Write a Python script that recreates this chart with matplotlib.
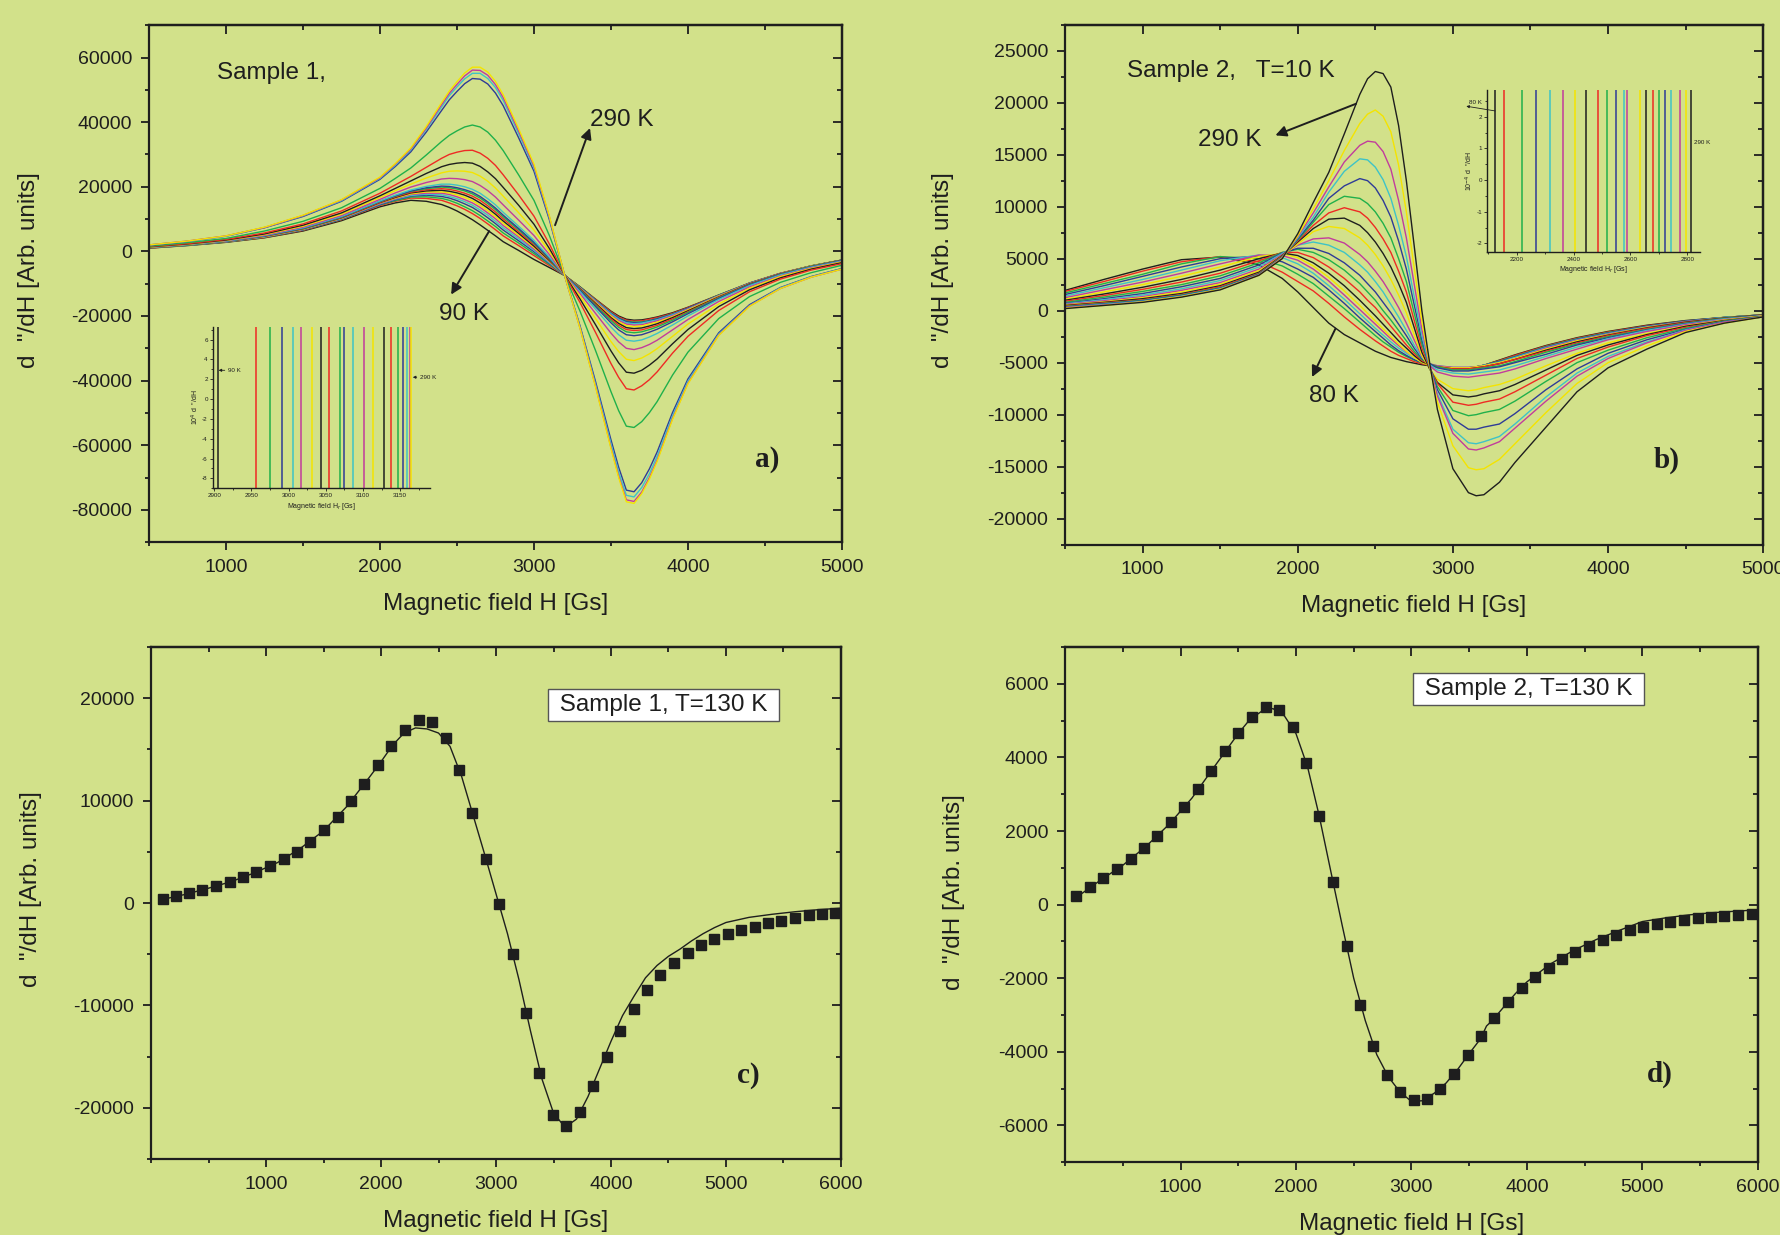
import matplotlib
matplotlib.use("Agg")
import matplotlib.pyplot as plt
import numpy as np
from matplotlib.ticker import MultipleLocator

plt.rcParams['font.family'] = ['Liberation Sans', 'DejaVu Sans']
plt.rcParams['axes.unicode_minus'] = False

BG = '#d2e18a'
INK = '#1e1e1e'
# Origin-like colour cycle: black, red, green, blue, cyan, magenta, yellow
cycle = ['#1e1e1e', '#ee2a24', '#20b04b', '#2e3b97', '#3ec3c7', '#c23c9c', '#f4e400']

# ---------------- panel a : sample 1, 90 K ... 290 K (values in units of 1000) ----
field_a = [500, 750, 1000, 1250, 1500, 1750, 2000, 2100, 2200, 2300, 2400, 2450, 2500,
           2550, 2600, 2650, 2700, 2750, 2800, 2900, 3000, 3100, 3200, 3300, 3400, 3500,
           3550, 3600, 3650, 3700, 3750, 3800, 3900, 4000, 4200, 4400, 4600, 4800, 5000]
temps_a = [90, 100, 110, 120, 130, 140, 150, 160, 170, 180, 190, 200, 210, 220, 230,
           240, 250, 260, 270, 280, 290]
a090 = [1.0, 1.8, 2.8, 4.2, 6.3, 9.5, 13.8, 15.0, 15.8, 15.5, 14.5, 13.6, 12.5, 11.2, 9.8, 8.2, 6.5, 4.8, 3.0, 0.3, -2.5, -5.0, -7.5, -11.0, -14.8, -18.5, -20.0, -21.0, -21.3, -21.2, -20.8, -20.3, -19.0, -17.3, -13.5, -9.8, -6.8, -4.5, -2.7]
a100 = [1.0, 1.9, 2.9, 4.3, 6.5, 9.8, 14.2, 15.5, 16.5, 16.4, 15.8, 15.0, 14.1, 13.0, 11.7, 10.2, 8.5, 6.7, 4.8, 1.8, -1.3, -4.4, -7.5, -11.1, -14.9, -18.7, -20.3, -21.3, -21.6, -21.5, -21.0, -20.5, -19.2, -17.4, -13.6, -9.8, -6.8, -4.5, -2.7]
a110 = [1.1, 1.9, 2.9, 4.4, 6.6, 9.9, 14.4, 15.7, 16.8, 16.9, 16.4, 15.8, 14.9, 13.8, 12.6, 11.1, 9.4, 7.7, 5.7, 2.6, -0.7, -4.0, -7.5, -11.1, -15.1, -19.0, -20.6, -21.6, -21.9, -21.8, -21.4, -20.8, -19.4, -17.6, -13.6, -9.9, -6.9, -4.5, -2.7]
a120 = [1.1, 1.9, 3.0, 4.5, 6.7, 10.0, 14.5, 16.0, 17.1, 17.4, 17.0, 16.5, 15.7, 14.7, 13.6, 12.1, 10.4, 8.6, 6.6, 3.3, -0.1, -3.7, -7.5, -11.2, -15.2, -19.1, -20.7, -21.8, -22.1, -22.0, -21.5, -20.9, -19.5, -17.6, -13.7, -9.9, -6.9, -4.6, -2.7]
a130 = [1.1, 1.9, 3.0, 4.5, 6.8, 10.1, 14.7, 16.2, 17.3, 17.7, 17.5, 17.0, 16.3, 15.4, 14.3, 12.8, 11.2, 9.3, 7.3, 3.9, 0.3, -3.5, -7.5, -11.3, -15.3, -19.3, -21.0, -22.1, -22.4, -22.2, -21.7, -21.2, -19.6, -17.8, -13.7, -9.9, -6.9, -4.6, -2.8]
a140 = [1.1, 2.0, 3.0, 4.6, 6.8, 10.2, 14.8, 16.3, 17.6, 18.0, 18.0, 17.6, 16.9, 16.0, 15.0, 13.6, 11.9, 10.1, 8.0, 4.5, 0.7, -3.2, -7.4, -11.4, -15.5, -19.7, -21.4, -22.5, -22.8, -22.7, -22.1, -21.5, -19.9, -17.9, -13.8, -10.0, -6.9, -4.6, -2.8]
a150 = [1.1, 2.0, 3.1, 4.6, 6.9, 10.3, 15.0, 16.5, 17.8, 18.4, 18.4, 18.1, 17.5, 16.7, 15.7, 14.3, 12.6, 10.8, 8.7, 5.0, 1.2, -3.0, -7.4, -11.5, -15.8, -20.0, -21.8, -23.0, -23.3, -23.1, -22.5, -21.9, -20.2, -18.1, -13.9, -10.1, -7.0, -4.6, -2.8]
a160 = [1.1, 2.0, 3.1, 4.7, 7.0, 10.4, 15.1, 16.7, 18.1, 18.7, 18.9, 18.6, 18.1, 17.4, 16.4, 15.0, 13.4, 11.5, 9.4, 5.6, 1.6, -2.8, -7.4, -11.6, -16.1, -20.5, -22.3, -23.6, -23.9, -23.7, -23.1, -22.4, -20.5, -18.4, -14.1, -10.1, -7.0, -4.7, -2.8]
a170 = [1.2, 2.0, 3.1, 4.7, 7.1, 10.5, 15.2, 16.9, 18.3, 19.1, 19.4, 19.2, 18.7, 18.0, 17.1, 15.8, 14.1, 12.2, 10.1, 6.1, 2.1, -2.5, -7.4, -11.7, -16.4, -20.9, -22.9, -24.2, -24.5, -24.3, -23.6, -22.9, -20.9, -18.7, -14.2, -10.2, -7.1, -4.7, -2.9]
a180 = [1.2, 2.0, 3.1, 4.8, 7.1, 10.6, 15.4, 17.1, 18.6, 19.4, 19.9, 19.7, 19.3, 18.7, 17.8, 16.5, 14.8, 12.9, 10.7, 6.7, 2.5, -2.3, -7.4, -11.9, -16.7, -21.4, -23.5, -24.9, -25.2, -24.9, -24.2, -23.4, -21.3, -18.9, -14.4, -10.3, -7.1, -4.7, -2.9]
a190 = [1.2, 2.1, 3.2, 4.8, 7.2, 10.7, 15.5, 17.2, 18.7, 19.7, 20.2, 20.1, 19.7, 19.1, 18.3, 17.0, 15.3, 13.4, 11.2, 7.1, 2.8, -2.1, -7.4, -12.1, -17.1, -22.1, -24.3, -25.8, -26.1, -25.8, -25.0, -24.1, -21.8, -19.3, -14.6, -10.4, -7.2, -4.8, -2.9]
a200 = [1.2, 2.1, 3.2, 4.9, 7.3, 10.8, 15.6, 17.4, 19.0, 20.1, 20.8, 20.8, 20.5, 20.0, 19.2, 18.0, 16.3, 14.4, 12.1, 7.8, 3.4, -1.8, -7.4, -12.5, -17.9, -23.4, -25.8, -27.5, -27.8, -27.4, -26.5, -25.4, -22.8, -20.0, -14.9, -10.6, -7.3, -4.9, -3.0]
a210 = [1.3, 2.2, 3.3, 5.0, 7.5, 11.1, 16.1, 18.1, 19.9, 21.3, 22.4, 22.6, 22.5, 22.2, 21.6, 20.4, 18.8, 16.8, 14.4, 9.7, 4.9, -1.0, -7.4, -13.1, -19.2, -25.3, -28.0, -30.0, -30.4, -29.8, -28.8, -27.5, -24.3, -21.1, -15.5, -11.0, -7.6, -5.1, -3.2]
a220 = [1.3, 2.2, 3.4, 5.2, 7.8, 11.5, 16.7, 18.8, 20.8, 22.7, 24.3, 24.8, 24.9, 24.8, 24.4, 23.3, 21.7, 19.6, 17.1, 12.0, 6.6, 0.0, -7.4, -13.9, -20.8, -27.9, -31.0, -33.4, -33.8, -33.0, -31.7, -30.1, -26.3, -22.5, -16.3, -11.4, -7.8, -5.3, -3.3]
a230 = [1.4, 2.3, 3.5, 5.4, 8.1, 11.9, 17.2, 19.5, 21.8, 24.1, 26.2, 26.9, 27.3, 27.5, 27.3, 26.3, 24.6, 22.5, 19.8, 14.3, 8.4, 0.9, -7.4, -14.8, -22.7, -30.8, -34.5, -37.4, -37.7, -36.8, -35.2, -33.3, -28.6, -24.2, -17.1, -11.9, -8.2, -5.5, -3.5]
a240 = [1.5, 2.4, 3.7, 5.7, 8.5, 12.5, 18.0, 20.6, 23.2, 26.0, 28.8, 30.0, 30.7, 31.2, 31.3, 30.4, 28.8, 26.6, 23.7, 17.5, 10.9, 2.3, -7.5, -15.9, -25.1, -34.7, -39.0, -42.5, -42.9, -41.6, -39.7, -37.3, -31.5, -26.3, -18.3, -12.5, -8.6, -5.8, -3.8]
a250 = [1.6, 2.7, 4.0, 6.3, 9.3, 13.5, 19.5, 22.6, 25.8, 29.8, 34.0, 35.9, 37.3, 38.5, 39.1, 38.5, 36.9, 34.4, 31.2, 23.7, 15.8, 4.9, -7.5, -18.6, -30.7, -43.4, -49.3, -54.1, -54.5, -52.7, -49.9, -46.5, -38.3, -31.2, -20.8, -14.0, -9.6, -6.6, -4.3]
a260 = [1.9, 3.1, 4.7, 7.3, 10.8, 15.5, 22.3, 26.3, 30.8, 36.9, 43.6, 46.9, 49.5, 51.9, 53.5, 53.3, 51.8, 49.0, 45.1, 35.2, 24.8, 9.8, -7.6, -23.2, -40.3, -58.3, -66.8, -73.9, -74.4, -71.6, -67.3, -62.1, -49.9, -39.5, -25.2, -16.5, -11.2, -7.8, -5.3]
a270 = [2.0, 3.1, 4.7, 7.4, 11.0, 15.7, 22.6, 26.7, 31.4, 37.7, 44.7, 48.2, 50.9, 53.4, 55.1, 55.1, 53.5, 50.7, 46.7, 36.5, 25.8, 10.4, -7.6, -23.6, -41.1, -59.5, -68.3, -75.5, -76.0, -73.1, -68.8, -63.4, -50.9, -40.2, -25.6, -16.8, -11.3, -7.9, -5.4]
a280 = [2.0, 3.2, 4.8, 7.4, 11.1, 15.9, 22.8, 27.0, 31.7, 38.1, 45.4, 48.9, 51.7, 54.3, 56.1, 56.0, 54.5, 51.6, 47.6, 37.3, 26.4, 10.7, -7.6, -23.9, -41.7, -60.6, -69.5, -76.9, -77.4, -74.5, -70.0, -64.6, -51.7, -40.8, -25.9, -16.9, -11.5, -8.0, -5.5]
a290 = [2.0, 3.2, 4.8, 7.5, 11.2, 16.0, 23.0, 27.2, 32.0, 38.6, 46.0, 49.6, 52.5, 55.2, 57.0, 57.0, 55.5, 52.6, 48.5, 38.0, 27.0, 11.0, -7.6, -24.0, -42.0, -61.0, -70.0, -77.5, -78.0, -75.0, -70.5, -65.0, -52.0, -41.0, -26.0, -17.0, -11.5, -8.0, -5.5]
curves_a = [a090, a100, a110, a120, a130, a140, a150, a160, a170, a180, a190, a200,
            a210, a220, a230, a240, a250, a260, a270, a280, a290]
# inset a: resonance field of each temperature
inset_a_field = [2905, 2956, 2975, 2991, 3006, 3017, 3032, 3043, 3054, 3069, 3074, 3086,
                 3102, 3114, 3128, 3138, 3147, 3154, 3159, 3163, 3165]

# ---------------- panel b : sample 2, 80 K ... 290 K (values in units of 1000) ----
field_b = [500, 750, 1000, 1250, 1500, 1750, 1900, 2000, 2100, 2200, 2300, 2400, 2450,
           2500, 2550, 2600, 2650, 2700, 2750, 2800, 2850, 2900, 3000, 3100, 3150, 3200,
           3300, 3400, 3600, 3800, 4000, 4250, 4500, 4750, 5000]
b080 = [1.95, 3.0, 4.0, 4.9, 5.15, 4.4, 3.1, 1.8, 0.3, -1.2, -2.3, -3.1, -3.5, -3.9, -4.2, -4.5, -4.7, -4.9, -5.05, -5.2, -5.3, -5.4, -5.5, -5.5, -5.4, -5.25, -4.75, -4.25, -3.35, -2.6, -2.0, -1.4, -0.95, -0.65, -0.4]
b090 = [1.85, 2.8, 3.8, 4.7, 5.2, 4.7, 3.7, 2.8, 1.9, 0.7, -0.6, -1.8, -2.35, -2.9, -3.4, -3.9, -4.3, -4.6, -4.9, -5.1, -5.25, -5.4, -5.5, -5.5, -5.4, -5.25, -4.8, -4.3, -3.4, -2.65, -2.05, -1.45, -1.0, -0.65, -0.4]
b100 = [1.7, 2.6, 3.5, 4.5, 5.2, 5.0, 4.3, 3.5, 2.6, 1.4, 0.2, -1.1, -1.75, -2.4, -3.0, -3.5, -4.0, -4.4, -4.75, -5.0, -5.2, -5.35, -5.5, -5.5, -5.4, -5.25, -4.85, -4.4, -3.45, -2.7, -2.1, -1.5, -1.0, -0.65, -0.4]
b110 = [1.55, 2.4, 3.3, 4.2, 5.0, 5.25, 4.7, 4.0, 3.2, 2.0, 0.7, -0.7, -1.35, -2.0, -2.65, -3.3, -3.85, -4.3, -4.7, -5.0, -5.2, -5.35, -5.5, -5.5, -5.4, -5.25, -4.9, -4.45, -3.5, -2.75, -2.15, -1.5, -1.0, -0.65, -0.4]
b120 = [1.4, 2.2, 3.0, 3.9, 4.8, 5.35, 5.1, 4.5, 3.6, 2.4, 1.1, -0.3, -1.0, -1.7, -2.35, -3.0, -3.6, -4.1, -4.55, -4.9, -5.15, -5.3, -5.45, -5.45, -5.4, -5.25, -4.95, -4.5, -3.55, -2.8, -2.2, -1.55, -1.05, -0.65, -0.4]
b130 = [1.25, 2.0, 2.75, 3.6, 4.5, 5.35, 5.3, 4.85, 4.0, 2.85, 1.5, 0.1, -0.6, -1.3, -2.0, -2.7, -3.35, -3.95, -4.45, -4.85, -5.1, -5.3, -5.45, -5.45, -5.4, -5.3, -5.0, -4.6, -3.6, -2.85, -2.25, -1.6, -1.05, -0.7, -0.4]
b140 = [1.1, 1.8, 2.5, 3.3, 4.2, 5.2, 5.5, 5.1, 4.3, 3.2, 1.9, 0.5, -0.25, -1.0, -1.75, -2.5, -3.2, -3.9, -4.5, -5.0, -5.25, -5.4, -5.5, -5.5, -5.4, -5.3, -5.0, -4.6, -3.7, -2.9, -2.3, -1.6, -1.1, -0.7, -0.4]
b150 = [1.0, 1.6, 2.25, 3.0, 3.9, 5.0, 5.55, 5.3, 4.6, 3.6, 2.4, 1.0, 0.25, -0.5, -1.3, -2.1, -2.9, -3.6, -4.3, -4.9, -5.2, -5.4, -5.6, -5.6, -5.5, -5.4, -5.1, -4.7, -3.8, -3.0, -2.35, -1.65, -1.1, -0.7, -0.4]
b160 = [0.9, 1.45, 2.05, 2.75, 3.6, 4.8, 5.6, 5.6, 5.1, 4.2, 3.1, 1.8, 1.0, 0.3, -0.6, -1.5, -2.4, -3.3, -4.1, -4.8, -5.15, -5.4, -5.6, -5.6, -5.5, -5.4, -5.1, -4.7, -3.9, -3.1, -2.4, -1.7, -1.15, -0.75, -0.45]
b170 = [0.8, 1.3, 1.85, 2.5, 3.35, 4.6, 5.6, 5.9, 5.6, 4.9, 3.9, 2.6, 1.8, 1.0, 0.0, -0.9, -1.9, -2.9, -3.9, -4.7, -5.1, -5.4, -5.7, -5.7, -5.6, -5.5, -5.3, -4.9, -4.0, -3.2, -2.5, -1.8, -1.2, -0.75, -0.45]
b180 = [0.7, 1.15, 1.65, 2.3, 3.1, 4.4, 5.55, 6.0, 6.0, 5.5, 4.6, 3.4, 2.6, 1.8, 0.8, -0.2, -1.3, -2.4, -3.6, -4.6, -5.1, -5.5, -5.8, -5.8, -5.7, -5.6, -5.4, -5.0, -4.2, -3.3, -2.6, -1.85, -1.25, -0.8, -0.45]
b190 = [0.65, 1.05, 1.5, 2.1, 2.9, 4.2, 5.5, 6.3, 6.6, 6.3, 5.6, 4.4, 3.7, 2.8, 1.8, 0.6, -0.6, -1.9, -3.3, -4.5, -5.2, -5.7, -6.0, -6.1, -6.0, -5.9, -5.7, -5.3, -4.4, -3.5, -2.7, -1.9, -1.3, -0.8, -0.5]
b200 = [0.6, 0.95, 1.35, 1.95, 2.7, 4.0, 5.4, 6.3, 6.9, 7.0, 6.5, 5.4, 4.7, 3.8, 2.8, 1.6, 0.3, -1.2, -2.8, -4.4, -5.3, -5.9, -6.3, -6.4, -6.3, -6.2, -6.0, -5.6, -4.6, -3.7, -2.8, -2.0, -1.35, -0.85, -0.5]
b210 = [0.55, 0.85, 1.25, 1.8, 2.55, 3.85, 5.3, 6.4, 7.6, 8.1, 7.9, 7.0, 6.3, 5.4, 4.3, 3.0, 1.5, -0.2, -2.3, -4.3, -5.6, -6.6, -7.5, -7.7, -7.6, -7.4, -7.1, -6.6, -5.3, -4.1, -3.1, -2.2, -1.45, -0.9, -0.5]
b220 = [0.5, 0.8, 1.15, 1.65, 2.4, 3.7, 5.3, 6.6, 7.9, 8.8, 8.9, 8.2, 7.5, 6.6, 5.5, 4.2, 2.6, 0.8, -1.6, -4.0, -5.6, -6.9, -8.1, -8.3, -8.2, -8.0, -7.7, -7.1, -5.7, -4.3, -3.3, -2.3, -1.5, -0.95, -0.55]
b230 = [0.45, 0.75, 1.05, 1.55, 2.3, 3.6, 5.25, 6.7, 8.2, 9.4, 9.9, 9.5, 8.9, 8.0, 6.9, 5.6, 3.8, 1.8, -0.9, -3.6, -5.5, -7.0, -8.8, -9.1, -9.0, -8.8, -8.5, -7.8, -6.2, -4.6, -3.5, -2.4, -1.6, -1.0, -0.55]
b240 = [0.4, 0.7, 1.0, 1.5, 2.2, 3.55, 5.2, 6.8, 8.5, 10.2, 11.0, 10.8, 10.3, 9.5, 8.4, 7.0, 5.0, 2.8, -0.2, -3.2, -5.4, -7.3, -9.6, -10.1, -10.0, -9.8, -9.5, -8.7, -6.8, -5.0, -3.8, -2.6, -1.7, -1.0, -0.55]
b250 = [0.35, 0.65, 0.95, 1.45, 2.15, 3.5, 5.15, 6.9, 8.7, 10.8, 12.0, 12.7, 12.5, 11.8, 10.6, 9.0, 6.7, 4.0, 0.6, -2.8, -5.4, -7.6, -10.4, -11.4, -11.4, -11.2, -10.9, -9.9, -7.6, -5.6, -4.1, -2.8, -1.8, -1.05, -0.6]
b260 = [0.3, 0.6, 0.9, 1.4, 2.1, 3.45, 5.1, 7.0, 9.0, 11.4, 13.4, 14.6, 14.5, 13.8, 12.6, 10.8, 8.2, 5.2, 1.4, -2.4, -5.4, -8.0, -11.4, -12.7, -12.8, -12.6, -12.1, -10.9, -8.3, -6.0, -4.4, -3.0, -1.85, -1.1, -0.6]
b270 = [0.3, 0.55, 0.85, 1.35, 2.05, 3.45, 5.1, 7.1, 9.4, 11.9, 14.3, 15.9, 16.3, 16.2, 15.3, 13.6, 10.6, 7.0, 2.6, -1.8, -5.3, -8.2, -11.8, -13.3, -13.4, -13.2, -12.6, -11.3, -8.7, -6.3, -4.6, -3.1, -1.9, -1.1, -0.6]
b280 = [0.25, 0.5, 0.85, 1.35, 2.05, 3.4, 5.05, 7.2, 9.8, 12.5, 15.4, 18.0, 18.9, 19.3, 18.7, 17.2, 14.0, 9.5, 4.2, -1.0, -5.3, -8.8, -13.0, -15.1, -15.3, -15.2, -14.3, -12.8, -9.8, -7.0, -5.0, -3.4, -2.0, -1.2, -0.6]
b290 = [0.2, 0.5, 0.8, 1.3, 2.0, 3.4, 5.0, 7.4, 10.4, 13.3, 17.0, 20.8, 22.3, 23.0, 22.8, 21.5, 17.8, 12.5, 6.3, 0.0, -5.0, -9.5, -15.2, -17.5, -17.8, -17.7, -16.5, -14.6, -11.2, -7.8, -5.5, -3.7, -2.1, -1.2, -0.6]
curves_b = [b080, b090, b100, b110, b120, b130, b140, b150, b160, b170, b180, b190,
            b200, b210, b220, b230, b240, b250, b260, b270, b280, b290]
inset_b_field = [2124, 2155, 2218, 2268, 2318, 2361, 2404, 2442, 2485, 2518, 2549, 2576,
                 2588, 2633, 2654, 2679, 2701, 2721, 2742, 2776, 2796, 2815]

# ---------------- panel c : sample 1, 130 K, data points + fit ----------------
c_pts_x = [102, 215, 334, 447, 566, 684, 803, 917, 1035, 1154, 1268, 1386, 1505, 1624, 1742,
           1856, 1975, 2089, 2207, 2326, 2444, 2563, 2681, 2795, 2914, 3027, 3146, 3264, 3378,
           3497, 3610, 3729, 3847, 3961, 4079, 4198, 4311, 4430, 4548, 4667, 4780, 4899, 5017,
           5131, 5249, 5368, 5482, 5600, 5719, 5832, 5951]
c_pts_y = [420, 690, 990, 1300, 1640, 2060, 2510, 3010, 3580, 4270, 5030, 5980, 7090, 8380,
           9940, 11660, 13450, 15350, 16910, 17870, 17710, 16150, 12950, 8800, 4300, -110,
           -4950, -10700, -16610, -20690, -21750, -20420, -17830, -15050, -12460, -10320,
           -8500, -7010, -5900, -4910, -4080, -3540, -3010, -2630, -2320, -1940, -1710, -1450,
           -1180, -1070, -990]
c_fit_x = [100, 300, 500, 700, 900, 1100, 1300, 1500, 1700, 1900, 2000, 2100, 2200, 2300, 2400,
           2500, 2600, 2700, 2800, 2900, 3000, 3100, 3200, 3300, 3400, 3500, 3600, 3700, 3800,
           3900, 4000, 4100, 4200, 4300, 4400, 4500, 4600, 4700, 4800, 4900, 5000, 5200, 5400,
           5600, 5800, 6000]
c_fit_y = [350, 850, 1450, 2100, 2950, 3950, 5350, 7050, 9400, 12300, 13800, 15400, 16600, 17100,
           17000, 16600, 15300, 12400, 8600, 4800, 900, -3000, -7500, -12500, -17200, -20500,
           -21900, -21100, -18900, -16200, -13500, -11000, -9100, -7300, -6100, -5200, -4500,
           -3700, -3000, -2400, -1900, -1400, -1100, -850, -650, -500]

# ---------------- panel d : sample 2, 130 K, data points + fit ----------------
d_pts_x = [94, 212, 330, 448, 567, 685, 798, 916, 1034, 1153, 1266, 1384, 1502, 1621, 1739,
           1852, 1970, 2089, 2202, 2320, 2438, 2552, 2670, 2788, 2901, 3020, 3138, 3251, 3369,
           3488, 3601, 3719, 3837, 3956, 4069, 4187, 4305, 4419, 4537, 4655, 4773, 4892, 5005,
           5123, 5241, 5360, 5478, 5596, 5709, 5828, 5946]
d_pts_y = [245, 468, 712, 956, 1232, 1540, 1869, 2241, 2666, 3133, 3643, 4164, 4663, 5109, 5364,
           5300, 4833, 3856, 2401, 627, -1137, -2720, -3846, -4621, -5088, -5311, -5279, -5024,
           -4610, -4100, -3580, -3091, -2645, -2273, -1954, -1711, -1487, -1296, -1126, -967,
           -818, -701, -605, -531, -467, -414, -372, -329, -308, -276, -255]
d_fit_x = [100, 300, 500, 700, 900, 1100, 1300, 1500, 1600, 1700, 1800, 1900, 2000, 2100, 2200,
           2300, 2400, 2500, 2600, 2700, 2800, 2900, 3000, 3100, 3200, 3300, 3400, 3500, 3600,
           3650, 3700, 3800, 3900, 4000, 4200, 4400, 4600, 4800, 5000, 5200, 5400, 5600, 5800,
           6000]
d_fit_y = [200, 650, 1070, 1580, 2180, 2900, 3780, 4650, 5030, 5250, 5330, 5130, 4650, 3750,
           2430, 930, -560, -2000, -3150, -4080, -4680, -5090, -5350, -5330, -5120, -4850,
           -4480, -4050, -3640, -3300, -3150, -2780, -2420, -2100, -1620, -1250, -950, -700,
           -460, -360, -280, -220, -180, -140]


def frame(ax, xlim, ylim, xmaj, xminor, ymaj, yminor):
    ax.set_facecolor(BG)
    ax.set_xlim(*xlim)
    ax.set_ylim(*ylim)
    ax.set_xticks(xmaj)
    ax.set_yticks(ymaj)
    ax.xaxis.set_minor_locator(MultipleLocator(xminor))
    ax.yaxis.set_minor_locator(MultipleLocator(yminor))
    for s in ax.spines.values():
        s.set_linewidth(1.6)
        s.set_color(INK)
    ax.tick_params(which='both', direction='out', width=1.3, color=INK,
                   labelsize=14, labelcolor=INK, pad=6)
    ax.tick_params(which='major', length=6)
    ax.tick_params(which='minor', length=3)
    top = ax.secondary_xaxis('top')
    top.set_xticks(xmaj)
    top.xaxis.set_minor_locator(MultipleLocator(xminor))
    top.tick_params(which='both', direction='in', width=1.3, color=INK, labeltop=False)
    top.tick_params(which='major', length=6.5)
    top.tick_params(which='minor', length=3.5)
    top.spines['top'].set_linewidth(1.6)
    right = ax.secondary_yaxis('right')
    right.set_yticks(ymaj)
    right.yaxis.set_minor_locator(MultipleLocator(yminor))
    right.tick_params(which='both', direction='in', width=1.3, color=INK, labelright=False)
    right.tick_params(which='major', length=6.5)
    right.tick_params(which='minor', length=3.5)
    right.spines['right'].set_linewidth(1.6)


def labels(ax, xl_y, yl_x, yl_y):
    ax.set_xlabel('Magnetic field H [Gs]', fontsize=17.5, color=INK, va='center')
    ax.xaxis.set_label_coords(0.5, xl_y)
    ax.set_ylabel('d  "/dH [Arb. units]', fontsize=17.5, color=INK, va='center')
    ax.yaxis.set_label_coords(yl_x, yl_y)


def arrow(ax, tip, tail, lw=1.4, ms=16):
    ax.annotate('', xy=tip, xytext=tail,
                arrowprops=dict(arrowstyle='-|>', color=INK, lw=lw, mutation_scale=ms,
                                shrinkA=0, shrinkB=0), annotation_clip=False)


def inset(ax, xlim, ylim, xmaj, xminor, ymaj, yminor, ylab):
    ax.patch.set_alpha(0)
    ax.set_xlim(*xlim)
    ax.set_ylim(*ylim)
    ax.set_xticks(xmaj)
    ax.set_yticks(ymaj)
    ax.xaxis.set_minor_locator(MultipleLocator(xminor))
    ax.yaxis.set_minor_locator(MultipleLocator(yminor))
    ax.spines['top'].set_visible(False)
    ax.spines['right'].set_visible(False)
    for s in ('left', 'bottom'):
        ax.spines[s].set_linewidth(1.0)
        ax.spines[s].set_color(INK)
    ax.tick_params(which='both', direction='out', width=0.6, color=INK,
                   labelsize=4.5, labelcolor=INK, pad=1.5)
    ax.tick_params(which='major', length=2)
    ax.tick_params(which='minor', length=1.2)
    ax.set_xlabel('Magnetic field H$_r$ [Gs]', fontsize=5, color=INK, labelpad=2)
    ax.set_ylabel(ylab, fontsize=5, color=INK, labelpad=1)


fig = plt.figure(figsize=(17.81, 12.35), dpi=100, facecolor=BG)

# ---- a) ----
ax_a = fig.add_axes([0.0837, 0.561, 0.389, 0.4186])
for i, ys in enumerate(curves_a):
    ax_a.plot(field_a, np.array(ys) * 1000, color=cycle[i % 7], lw=1.0)
frame(ax_a, (500, 5000), (-90000, 70000), [1000, 2000, 3000, 4000, 5000], 500,
      np.arange(-80000, 60001, 20000), 10000)
labels(ax_a, -0.12, -0.174, 0.526)
ax_a.text(944, 55300, 'Sample 1,', fontsize=17.5, color=INK, va='center')
arrow(ax_a, (3364, 38160), (3137, 8100))
ax_a.text(3365, 40600, '290 K', fontsize=17.5, color=INK, va='center')
arrow(ax_a, (2462, -13370), (2709, 6260))
ax_a.text(2381, -19500, '90 K', fontsize=17.5, color=INK, va='center')
ax_a.text(4434, -64300, 'a)', fontsize=21, fontweight='bold', color=INK, va='center',
          family=['Liberation Serif', 'DejaVu Serif'])

ins_a = fig.add_axes([0.1194, 0.6046, 0.122, 0.1309])
for i, hx in enumerate(inset_a_field):
    ins_a.axvline(hx, color=cycle[i % 7], lw=1.1)
inset(ins_a, (2898, 3190), (-9, 7.3), [2900, 2950, 3000, 3050, 3100, 3150], 25,
      [-8, -6, -4, -2, 0, 2, 4, 6], 1, '10$^4$ d  "/dH')
ins_a.annotate('90 K', xy=(2906, 2.9), xytext=(2918, 2.9), fontsize=4.5, va='center',
               color=INK, arrowprops=dict(arrowstyle='-|>', color=INK, lw=0.6,
                                          mutation_scale=4, shrinkA=0, shrinkB=0))
ins_a.annotate('290 K', xy=(3167, 2.2), xytext=(3176, 2.2), fontsize=4.5, va='center',
               color=INK, annotation_clip=False,
               arrowprops=dict(arrowstyle='-|>', color=INK, lw=0.6, mutation_scale=4,
                               shrinkA=0, shrinkB=0))

# ---- b) ----
ax_b = fig.add_axes([0.598, 0.559, 0.392, 0.421])
for i, ys in enumerate(curves_b):
    ax_b.plot(field_b, np.array(ys) * 1000, color=cycle[i % 7], lw=1.0)
frame(ax_b, (500, 5000), (-22500, 27500), [1000, 2000, 3000, 4000, 5000], 500,
      np.arange(-20000, 25001, 5000), 2500)
labels(ax_b, -0.118, -0.175, 0.529)
ax_b.text(900, 23060, 'Sample 2,   T=10 K', fontsize=17.5, color=INK, va='center')
arrow(ax_b, (1856, 16860), (2376, 19900))
ax_b.text(1355, 16440, '290 K', fontsize=17.5, color=INK, va='center')
arrow(ax_b, (2092, -6380), (2243, -1730))
ax_b.text(2071, -8240, '80 K', fontsize=17.5, color=INK, va='center')
ax_b.text(4293, -14440, 'b)', fontsize=21, fontweight='bold', color=INK, va='center',
          family=['Liberation Serif', 'DejaVu Serif'])

ins_b = fig.add_axes([0.8351, 0.7962, 0.1194, 0.1309])
for i, hx in enumerate(inset_b_field):
    ins_b.axvline(hx, color=cycle[i % 7], lw=1.1)
inset(ins_b, (2096, 2845), (-2.26, 2.84), [2200, 2400, 2600, 2800], 100,
      [-2, -1, 0, 1, 2], 0.5, '10$^{-4}$ d  "/dH')
arrow(ins_b, (2022, 2.33), (2124, 2.18), lw=0.6, ms=4)
ins_b.text(2030, 2.45, '80 K', fontsize=4.5, color=INK, va='center')
ins_b.text(2823, 1.19, '290 K', fontsize=4.5, color=INK, va='center')

# ---- c) ----
ax_c = fig.add_axes([0.0848, 0.0615, 0.3874, 0.4146])
ax_c.plot(c_fit_x, c_fit_y, color=INK, lw=1.0)
ax_c.plot(c_pts_x, c_pts_y, 's', color=INK, ms=7.5, clip_on=False)
frame(ax_c, (0, 6000), (-25000, 25000), [1000, 2000, 3000, 4000, 5000, 6000], 500,
      [-20000, -10000, 0, 10000, 20000], 5000)
labels(ax_c, -0.121, -0.174, 0.527)
ax_c.text(4453, 19310, ' Sample 1, T=130 K ', fontsize=17.5, color=INK, ha='center',
          va='center', bbox=dict(boxstyle='square,pad=0.2', fc='white', ec='#555555', lw=1))
ax_c.text(5099, -16880, 'c)', fontsize=21, fontweight='bold', color=INK, va='center',
          family=['Liberation Serif', 'DejaVu Serif'])

# ---- d) ----
ax_d = fig.add_axes([0.598, 0.059, 0.389, 0.417])
ax_d.plot(d_fit_x, d_fit_y, color=INK, lw=1.0)
ax_d.plot(d_pts_x, d_pts_y, 's', color=INK, ms=7.5, clip_on=False)
frame(ax_d, (0, 6000), (-7000, 7000), [1000, 2000, 3000, 4000, 5000, 6000], 500,
      np.arange(-6000, 6001, 2000), 1000)
labels(ax_d, -0.121, -0.160, 0.524)
ax_d.text(4012, 5863, ' Sample 2, T=130 K ', fontsize=17.5, color=INK, ha='center',
          va='center', bbox=dict(boxstyle='square,pad=0.2', fc='white', ec='#555555', lw=1))
ax_d.text(5040, -4610, 'd)', fontsize=21, fontweight='bold', color=INK, va='center',
          family=['Liberation Serif', 'DejaVu Serif'])

fig.savefig('out.png', dpi=100, facecolor=BG)
